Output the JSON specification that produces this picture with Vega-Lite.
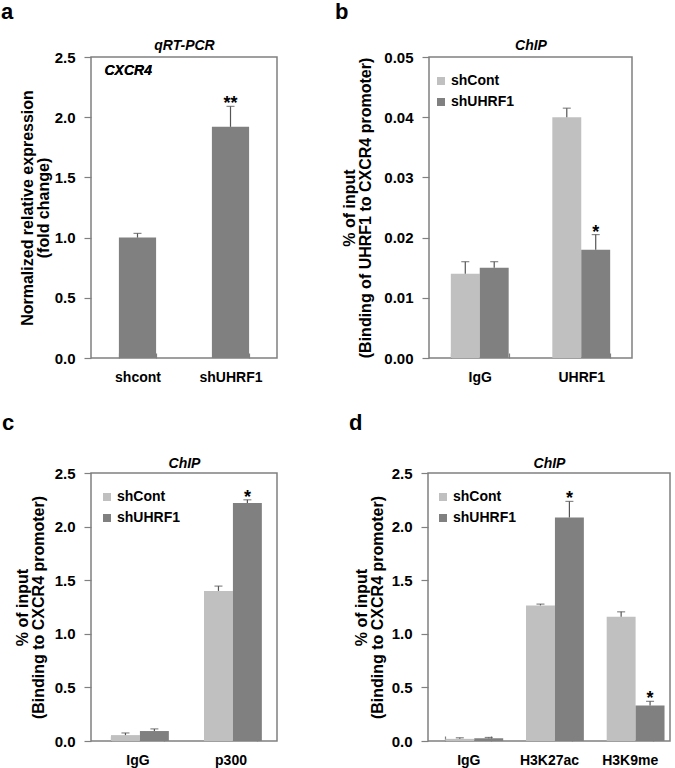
{
  "$schema": "https://vega.github.io/schema/vega-lite/v6.json",
  "padding": {"left": 0, "top": 0, "right": 0, "bottom": 0},
  "background": "white",
  "datasets": {
    "a": [
      {"g": "shcont", "v": 1.0, "e": 1.035, "sig": ""},
      {"g": "shUHRF1", "v": 1.92, "e": 2.09, "sig": "**"}
    ],
    "b": [
      {"g": "IgG", "s": "shCont", "v": 0.014, "e": 0.016, "sig": ""},
      {"g": "IgG", "s": "shUHRF1", "v": 0.015, "e": 0.016, "sig": ""},
      {"g": "UHRF1", "s": "shCont", "v": 0.040, "e": 0.0415, "sig": ""},
      {"g": "UHRF1", "s": "shUHRF1", "v": 0.018, "e": 0.0205, "sig": "*"}
    ],
    "c": [
      {"g": "IgG", "s": "shCont", "v": 0.055, "e": 0.075, "sig": ""},
      {"g": "IgG", "s": "shUHRF1", "v": 0.093, "e": 0.113, "sig": ""},
      {"g": "p300", "s": "shCont", "v": 1.40, "e": 1.445, "sig": ""},
      {"g": "p300", "s": "shUHRF1", "v": 2.22, "e": 2.25, "sig": "*"}
    ],
    "d": [
      {"g": "IgG", "s": "shCont", "v": 0.02, "e": 0.03, "sig": ""},
      {"g": "IgG", "s": "shUHRF1", "v": 0.025, "e": 0.033, "sig": ""},
      {"g": "H3K27ac", "s": "shCont", "v": 1.265, "e": 1.277, "sig": ""},
      {"g": "H3K27ac", "s": "shUHRF1", "v": 2.085, "e": 2.235, "sig": "*"},
      {"g": "H3K9me", "s": "shCont", "v": 1.16, "e": 1.205, "sig": ""},
      {"g": "H3K9me", "s": "shUHRF1", "v": 0.33, "e": 0.37, "sig": "*"}
    ]
  },
  "config": {
    "font": "Liberation Sans",
    "view": {"stroke": "#808080", "strokeWidth": 1.5},
    "axis": {
      "labelFont": "Liberation Sans", "labelFontSize": 15, "labelFontWeight": "bold", "labelColor": "#000",
      "titleFont": "Liberation Sans", "titleFontSize": 16, "titleFontWeight": "bold", "titleColor": "#000",
      "domain": false, "grid": false, "tickColor": "#808080", "tickWidth": 1.2
    },
    "axisY": {"tickSize": 7, "labelPadding": 9, "titleLineHeight": 16},
    "axisX": {"labelFontSize": 14, "labelAngle": 0, "tickBand": "extent", "tickSize": -5, "labelPadding": 17},
    "title": {"fontSize": 22, "fontWeight": "bold", "anchor": "start", "frame": "group", "color": "#000", "font": "Liberation Sans", "offset": 14},
    "legend": {
      "orient": "none", "legendX": 9, "legendY": 17, "title": null,
      "labelFontSize": 14, "labelFontWeight": "bold", "labelColor": "#000", "labelFont": "Liberation Sans",
      "symbolType": "square", "symbolSize": 64, "symbolStrokeWidth": 0, "symbolOpacity": 1,
      "padding": 0, "rowPadding": 7, "labelOffset": 3
    }
  },
  "spacing": 26,
  "resolve": {"scale": {"color": "independent"}, "legend": {"color": "independent"}},
  "vconcat": [
    {
      "spacing": 56,
      "resolve": {"scale": {"color": "independent"}, "legend": {"color": "independent"}},
      "hconcat": [
        {
          "title": {"text": "a", "dx": -90},
          "width": 186, "height": 301,
          "data": {"name": "a"},
          "resolve": {"axis": {"x": "independent", "y": "independent"}},
          "layer": [
            {
              "mark": {"type": "bar", "color": "#808080"},
              "encoding": {
                "x": {"field": "g", "type": "nominal", "sort": null, "scale": {"paddingInner": 0.6, "paddingOuter": 0.3}, "axis": {"title": null}},
                "y": {"field": "v", "type": "quantitative", "scale": {"domain": [0, 2.5], "nice": false},
                  "axis": {"values": [0, 0.5, 1, 1.5, 2, 2.5], "format": ".1f", "title": ["Normalized relative expression", "(fold change)"], "titlePadding": 3}}
              }
            },
            {
              "mark": {"type": "rule", "color": "#555", "strokeWidth": 1.2},
              "encoding": {
                "x": {"field": "g", "type": "nominal", "sort": null, "axis": null},
                "y": {"field": "v", "type": "quantitative", "scale": {"domain": [0, 2.5], "nice": false}, "axis": null},
                "y2": {"field": "e"}
              }
            },
            {
              "mark": {"type": "tick", "color": "#555", "size": 8, "thickness": 1.2},
              "encoding": {
                "x": {"field": "g", "type": "nominal", "sort": null, "axis": null},
                "y": {"field": "e", "type": "quantitative", "scale": {"domain": [0, 2.5], "nice": false}, "axis": null}
              }
            },
            {
              "mark": {"type": "text", "fontSize": 18, "fontWeight": "bold", "dy": 3, "baseline": "alphabetic", "color": "#000"},
              "encoding": {
                "x": {"field": "g", "type": "nominal", "sort": null,
                  "axis": {"orient": "top", "labels": false, "ticks": false, "domain": false, "title": "qRT-PCR", "titleFontSize": 14, "titleFontStyle": "italic", "titlePadding": 5}},
                "y": {"field": "e", "type": "quantitative", "scale": {"domain": [0, 2.5], "nice": false}, "axis": null},
                "text": {"field": "sig"}
              }
            },
            {
              "mark": {"type": "text", "fontSize": 14, "fontWeight": "bold", "fontStyle": "italic", "align": "left", "baseline": "middle", "dx": -33, "color": "#000"},
              "encoding": {
                "x": {"datum": "shcont", "type": "nominal", "axis": null},
                "y": {"datum": 2.38, "type": "quantitative", "axis": null},
                "text": {"value": "CXCR4"}
              }
            }
          ]
        },
        {
          "title": {"text": "b", "dx": -94},
          "width": 203, "height": 301,
          "data": {"name": "b"},
          "resolve": {"axis": {"x": "independent", "y": "independent"}},
          "layer": [
            {
              "mark": {"type": "bar"},
              "encoding": {
                "x": {"field": "g", "type": "nominal", "sort": null, "scale": {"paddingInner": 0.43, "paddingOuter": 0.215}, "axis": {"title": null}},
                "xOffset": {"field": "s", "type": "nominal", "sort": null},
                "y": {"field": "v", "type": "quantitative", "scale": {"domain": [0, 0.05], "nice": false},
                  "axis": {"values": [0, 0.01, 0.02, 0.03, 0.04, 0.05], "format": ".2f", "title": ["% of input", "(Binding of UHRF1 to CXCR4 promoter)"], "titlePadding": 10}},
                "color": {"field": "s", "type": "nominal", "sort": null, "scale": {"domain": ["shCont", "shUHRF1"], "range": ["#C0C0C0", "#808080"]}, "legend": {"legendX": 5, "legendY": 17}}
              }
            },
            {
              "mark": {"type": "rule", "color": "#555", "strokeWidth": 1.2},
              "encoding": {
                "x": {"field": "g", "type": "nominal", "sort": null, "axis": null},
                "xOffset": {"field": "s", "type": "nominal", "sort": null},
                "y": {"field": "v", "type": "quantitative", "scale": {"domain": [0, 0.05], "nice": false}, "axis": null},
                "y2": {"field": "e"}
              }
            },
            {
              "mark": {"type": "tick", "color": "#555", "size": 8, "thickness": 1.2},
              "encoding": {
                "x": {"field": "g", "type": "nominal", "sort": null, "axis": null},
                "xOffset": {"field": "s", "type": "nominal", "sort": null},
                "y": {"field": "e", "type": "quantitative", "scale": {"domain": [0, 0.05], "nice": false}, "axis": null}
              }
            },
            {
              "mark": {"type": "text", "fontSize": 18, "fontWeight": "bold", "dy": 3, "baseline": "alphabetic", "color": "#000"},
              "encoding": {
                "x": {"field": "g", "type": "nominal", "sort": null,
                  "axis": {"orient": "top", "labels": false, "ticks": false, "domain": false, "title": "ChIP", "titleFontSize": 14, "titleFontStyle": "italic", "titlePadding": 5}},
                "xOffset": {"field": "s", "type": "nominal", "sort": null},
                "y": {"field": "e", "type": "quantitative", "scale": {"domain": [0, 0.05], "nice": false}, "axis": null},
                "text": {"field": "sig"}
              }
            }
          ]
        }
      ]
    },
    {
      "spacing": 70,
      "resolve": {"scale": {"color": "independent"}, "legend": {"color": "independent"}},
      "hconcat": [
        {
          "title": {"text": "c", "dx": -89, "offset": 21},
          "width": 186, "height": 268,
          "data": {"name": "c"},
          "resolve": {"axis": {"x": "independent", "y": "independent"}},
          "layer": [
            {
              "mark": {"type": "bar"},
              "encoding": {
                "x": {"field": "g", "type": "nominal", "sort": null, "scale": {"paddingInner": 0.43, "paddingOuter": 0.215}, "axis": {"title": null}},
                "xOffset": {"field": "s", "type": "nominal", "sort": null},
                "y": {"field": "v", "type": "quantitative", "scale": {"domain": [0, 2.5], "nice": false},
                  "axis": {"values": [0, 0.5, 1, 1.5, 2, 2.5], "format": ".1f", "title": ["% of input", "(Binding to CXCR4 promoter)"], "titlePadding": 8}},
                "color": {"field": "s", "type": "nominal", "sort": null, "scale": {"domain": ["shCont", "shUHRF1"], "range": ["#C0C0C0", "#808080"]}, "legend": {"legendX": 9, "legendY": 17}}
              }
            },
            {
              "mark": {"type": "rule", "color": "#555", "strokeWidth": 1.2},
              "encoding": {
                "x": {"field": "g", "type": "nominal", "sort": null, "axis": null},
                "xOffset": {"field": "s", "type": "nominal", "sort": null},
                "y": {"field": "v", "type": "quantitative", "scale": {"domain": [0, 2.5], "nice": false}, "axis": null},
                "y2": {"field": "e"}
              }
            },
            {
              "mark": {"type": "tick", "color": "#555", "size": 8, "thickness": 1.2},
              "encoding": {
                "x": {"field": "g", "type": "nominal", "sort": null, "axis": null},
                "xOffset": {"field": "s", "type": "nominal", "sort": null},
                "y": {"field": "e", "type": "quantitative", "scale": {"domain": [0, 2.5], "nice": false}, "axis": null}
              }
            },
            {
              "mark": {"type": "text", "fontSize": 18, "fontWeight": "bold", "dy": 3, "baseline": "alphabetic", "color": "#000"},
              "encoding": {
                "x": {"field": "g", "type": "nominal", "sort": null,
                  "axis": {"orient": "top", "labels": false, "ticks": false, "domain": false, "title": "ChIP", "titleFontSize": 14, "titleFontStyle": "italic", "titlePadding": 3}},
                "xOffset": {"field": "s", "type": "nominal", "sort": null},
                "y": {"field": "e", "type": "quantitative", "scale": {"domain": [0, 2.5], "nice": false}, "axis": null},
                "text": {"field": "sig"}
              }
            }
          ]
        },
        {
          "title": {"text": "d", "dx": -79, "offset": 21},
          "width": 242, "height": 268,
          "data": {"name": "d"},
          "resolve": {"axis": {"x": "independent", "y": "independent"}},
          "layer": [
            {
              "mark": {"type": "bar"},
              "encoding": {
                "x": {"field": "g", "type": "nominal", "sort": null, "scale": {"paddingInner": 0.43, "paddingOuter": 0.215}, "axis": {"title": null}},
                "xOffset": {"field": "s", "type": "nominal", "sort": null},
                "y": {"field": "v", "type": "quantitative", "scale": {"domain": [0, 2.5], "nice": false},
                  "axis": {"values": [0, 0.5, 1, 1.5, 2, 2.5], "format": ".1f", "title": ["% of input", "(Binding to CXCR4 promoter)"], "titlePadding": 6}},
                "color": {"field": "s", "type": "nominal", "sort": null, "scale": {"domain": ["shCont", "shUHRF1"], "range": ["#C0C0C0", "#808080"]}, "legend": {"legendX": 8, "legendY": 17}}
              }
            },
            {
              "mark": {"type": "rule", "color": "#555", "strokeWidth": 1.2},
              "encoding": {
                "x": {"field": "g", "type": "nominal", "sort": null, "axis": null},
                "xOffset": {"field": "s", "type": "nominal", "sort": null},
                "y": {"field": "v", "type": "quantitative", "scale": {"domain": [0, 2.5], "nice": false}, "axis": null},
                "y2": {"field": "e"}
              }
            },
            {
              "mark": {"type": "tick", "color": "#555", "size": 8, "thickness": 1.2},
              "encoding": {
                "x": {"field": "g", "type": "nominal", "sort": null, "axis": null},
                "xOffset": {"field": "s", "type": "nominal", "sort": null},
                "y": {"field": "e", "type": "quantitative", "scale": {"domain": [0, 2.5], "nice": false}, "axis": null}
              }
            },
            {
              "mark": {"type": "text", "fontSize": 18, "fontWeight": "bold", "dy": 3, "baseline": "alphabetic", "color": "#000"},
              "encoding": {
                "x": {"field": "g", "type": "nominal", "sort": null,
                  "axis": {"orient": "top", "labels": false, "ticks": false, "domain": false, "title": "ChIP", "titleFontSize": 14, "titleFontStyle": "italic", "titlePadding": 3}},
                "xOffset": {"field": "s", "type": "nominal", "sort": null},
                "y": {"field": "e", "type": "quantitative", "scale": {"domain": [0, 2.5], "nice": false}, "axis": null},
                "text": {"field": "sig"}
              }
            }
          ]
        }
      ]
    }
  ]
}
